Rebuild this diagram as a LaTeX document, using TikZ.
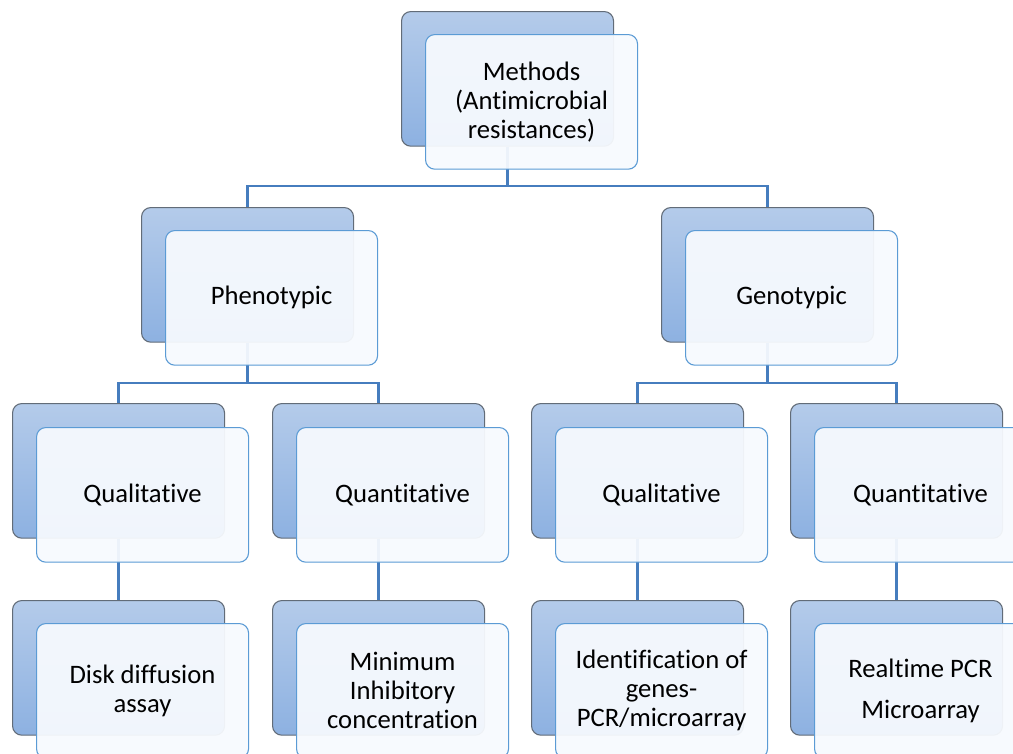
\documentclass[tikz,border=0pt]{standalone}
\usepackage{fontspec}
\setmainfont{Carlito}[Ligatures=CommonOff]
\definecolor{backtop}{RGB}{180,203,234}
\definecolor{backbot}{RGB}{141,177,225}
\definecolor{backline}{RGB}{98,108,120}
\definecolor{frontline}{RGB}{91,155,213}
\definecolor{frontfill}{RGB}{247,250,254}
\definecolor{conn}{RGB}{70,125,190}
\begin{document}
\begin{tikzpicture}[x=0.75pt,y=-0.75pt,
  backbox/.style={draw=backline, line width=0.8pt, rounded corners=7pt,
    top color=backtop, bottom color=backbot, anchor=north west,
    minimum width=159pt, minimum height=101pt, inner sep=0pt},
  frontbox/.style={draw=frontline, line width=0.8pt, rounded corners=7pt,
    fill=frontfill, fill opacity=0.94, text opacity=1, anchor=north west,
    minimum width=159pt, minimum height=101pt, inner sep=0pt, align=center,
    font=\fontsize{20}{21.75}\selectfont},
  link/.style={draw=conn, line width=1.6pt}]
\useasboundingbox (0,0) rectangle (1013,753);
\fill[white] (0,0) rectangle (1013,753);
\clip (0,0) rectangle (1013,753);
% back boxes
\node[backbox] (M) at (401,11) {};
\node[backbox] (P) at (141,207) {};
\node[backbox] (G) at (661,207) {};
\node[backbox] (PL) at (12,403) {};
\node[backbox] (PN) at (272,403) {};
\node[backbox] (GL) at (531,403) {};
\node[backbox] (GN) at (790,403) {};
\node[backbox] (PLa) at (12,600) {};
\node[backbox] (PNa) at (272,600) {};
\node[backbox] (GLa) at (531,600) {};
\node[backbox] (GNa) at (790,600) {};
% junctions
\coordinate (j1) at (507,186);
\coordinate (j2) at (248,383);
\coordinate (j3) at (767,383);
% connectors
\draw[link] (M.south) -- (M.south |- j1) -| (P.north);
\draw[link] (M.south |- j1) -| (G.north);
\draw[link] (P.south) -- (P.south |- j2) -| (PL.north);
\draw[link] (P.south |- j2) -| (PN.north);
\draw[link] (G.south) -- (G.south |- j3) -| (GL.north);
\draw[link] (G.south |- j3) -| (GN.north);
\draw[link] (PL.south) -- (PLa.north);
\draw[link] (PN.south) -- (PNa.north);
\draw[link] (GL.south) -- (GLa.north);
\draw[link] (GN.south) -- (GNa.north);
% front boxes
\node[frontbox] (Mf) at (425,34) {Methods\\(Antimicrobial\\resistances)};
\node[frontbox] (Pf) at (165,230) {Phenotypic};
\node[frontbox] (Gf) at (685,230) {Genotypic};
\node[frontbox] (PLf) at (36,427) {Qualitative};
\node[frontbox] (PNf) at (296,427) {Quantitative};
\node[frontbox] (GLf) at (555,427) {Qualitative};
\node[frontbox] (GNf) at (814,427) {Quantitative};
\node[frontbox] (PLaf) at (36,623) {Disk diffusion\\assay};
\node[frontbox] (PNaf) at (296,623) {Minimum\\Inhibitory\\concentration};
\node[frontbox] (GLaf) at (555,623) {Identification of\\genes-\\PCR/microarray};
\node[frontbox] (GNaf) at (814,623) {Realtime PCR\\[9pt]Microarray};
\end{tikzpicture}
\end{document}
